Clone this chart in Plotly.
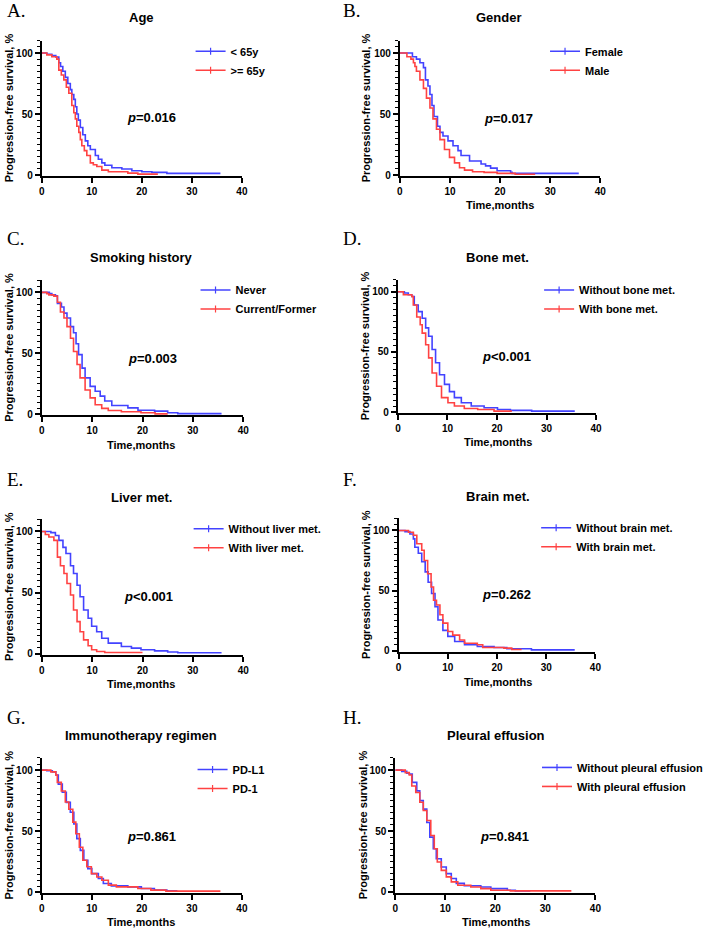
import plotly.graph_objects as go

W, H = 709, 933
BLUE = "#4343FF"
RED = "#FF4242"
SANS = "Liberation Sans, Arial, sans-serif"
SERIF = "Liberation Serif, Times New Roman, serif"

# ---------------- data (time in months, progression-free survival in %) ----------------
age_lt65_t = [0, 1.0, 2.0, 2.8, 3.4, 3.75, 4.2, 4.7, 5.2, 5.7, 6.0, 6.4, 6.7, 7.0, 7.3, 7.7, 8.2, 8.7, 9.2, 9.7, 10.7, 11.3, 12.0, 12.6, 14.0, 16.0, 18.0, 20.0, 22.0, 25.0, 35.7]
age_lt65_s = [100, 99, 98, 96.7, 92, 89, 85, 80, 75, 70, 66, 62, 56, 50, 45, 39, 33, 28, 24, 21, 16, 13, 10, 8, 6, 5, 3.5, 2.7, 2.2, 1.4, 1.4]
age_ge65_t = [0, 1.0, 2.0, 3.0, 3.4, 3.9, 4.4, 4.9, 5.4, 6.0, 6.4, 6.7, 7.0, 7.4, 7.7, 8.0, 8.5, 9.0, 9.7, 10.3, 11.0, 12.0, 13.3, 17.2, 19.2, 23.2]
age_ge65_s = [100, 98.5, 97, 95, 86, 82, 78, 72, 67, 57, 51, 46, 40, 35, 29, 24, 20, 16, 10, 8.5, 7, 4, 2.7, 1.6, 0.8, 0.8]

female_t = [0, 2.5, 3.3, 4.0, 4.7, 5.1, 5.6, 6.0, 6.4, 6.8, 7.5, 8.0, 8.6, 9.6, 10.6, 11.6, 12.2, 13.9, 16.2, 17.1, 18.1, 19.4, 22.1, 22.4, 35.7]
female_s = [100, 97, 95, 92, 88, 78, 73, 66, 57, 48, 40, 35, 32, 28, 24, 20, 16, 11.5, 9, 7.5, 5.7, 3.5, 2.2, 1.4, 1.4]
male_t = [0, 1.4, 2.2, 2.7, 3.0, 3.3, 4.0, 4.7, 5.3, 6.0, 6.6, 7.3, 8.0, 8.9, 9.9, 10.9, 11.9, 12.9, 14.5, 16.8, 19.4, 23.0, 27.0]
male_s = [100, 97, 95, 92, 89, 85, 78, 71, 63, 55, 46, 37.5, 29, 21, 14.5, 10, 6, 4, 2.7, 2.2, 1.4, 0.7, 0.7]

never_t = [0, 1.5, 2.0, 2.7, 3.1, 3.9, 4.4, 5.0, 5.7, 6.3, 6.8, 7.3, 8.0, 8.6, 9.6, 10.6, 11.6, 12.5, 13.9, 17.1, 19.1, 22.4, 25.0, 27.0, 35.7]
never_s = [100, 99, 98, 97.3, 91, 88, 83, 79, 72, 67, 58, 49, 38, 30, 23, 19, 15, 11, 7.3, 5.4, 3.5, 2.7, 1.4, 0.7, 0.7]
smoker_t = [0, 1.0, 1.4, 2.4, 3.1, 3.7, 4.4, 5.0, 5.7, 6.3, 7.0, 7.6, 8.6, 9.6, 10.6, 11.9, 13.2, 15.8, 19.7, 22.5, 25.0]
smoker_s = [100, 99, 98, 97, 92, 84, 79, 72, 62.5, 51.6, 41, 30, 20, 13.6, 8, 5, 3.3, 2.2, 1.4, 0.5, 0.5]

nobone_t = [0, 1.3, 2.1, 2.8, 3.3, 4.1, 4.9, 5.6, 6.2, 6.9, 7.6, 8.4, 9.4, 10.4, 11.4, 12.8, 14.8, 17.4, 20.1, 22.7, 27.0, 35.7]
nobone_s = [100, 99, 97.5, 96, 89, 83.5, 78, 70, 63, 52, 41, 31, 23, 17, 12, 7.7, 5, 3.6, 2.2, 1.4, 0.8, 0.8]
bone_t = [0, 1.1, 2.8, 3.1, 3.8, 4.5, 4.9, 5.6, 6.2, 6.9, 7.8, 8.8, 10.1, 11.4, 13.4, 16.1, 19.4, 23.0]
bone_s = [100, 97.5, 96, 89, 79, 72.5, 65.6, 56, 45, 32.5, 21.5, 12, 7.7, 5, 3, 2.2, 0.8, 0.8]

noliver_t = [0, 1.8, 2.7, 3.4, 4.2, 4.8, 5.7, 6.3, 7.0, 7.6, 8.3, 9.2, 9.9, 10.9, 11.9, 13.2, 15.8, 17.8, 19.7, 22.4, 25.0, 27.0, 35.7]
noliver_s = [100, 99, 96.7, 92.7, 87, 82, 72, 65.6, 56, 46.6, 35.8, 29, 22.5, 18, 12.7, 8.7, 6, 4.6, 3.3, 2.4, 1.4, 0.8, 0.8]
liver_t = [0, 0.7, 1.4, 2.4, 3.1, 3.7, 4.4, 5.0, 5.7, 6.3, 7.0, 7.6, 8.3, 9.2, 9.9, 10.9, 12.5, 20.0]
liver_s = [100, 97.5, 95.4, 92.7, 79, 72, 65.6, 57.5, 48, 35.8, 26.3, 18, 11.4, 6.5, 3.3, 1.9, 1.1, 1.1]

nobrain_t = [0, 1.3, 2.3, 3.0, 3.3, 4.0, 4.7, 5.4, 6.0, 6.7, 7.4, 8.0, 9.0, 10.0, 11.4, 13.4, 16.0, 19.4, 22.0, 27.0, 35.8]
nobrain_s = [100, 99, 97, 93, 86, 81, 74, 65.6, 57, 47.6, 36.6, 25.6, 17, 12, 7.7, 5, 3.6, 2.8, 1.7, 0.8, 0.8]
brain_t = [0, 2.0, 3.0, 3.7, 4.7, 5.2, 5.9, 6.6, 7.1, 7.7, 8.4, 9.0, 10.0, 11.0, 12.4, 13.4, 16.0, 17.1, 21.4, 23.0, 25.0]
brain_s = [100, 98.5, 96, 89, 83.5, 75, 64, 53, 42, 38, 30, 23, 16, 13, 9, 6.3, 5, 2.8, 2.2, 1.1, 1.1]

pdl1_t = [0, 1.0, 2.1, 2.8, 3.3, 4.1, 4.9, 5.7, 6.4, 7.0, 7.7, 8.4, 9.2, 10.0, 11.3, 12.3, 13.9, 17.2, 19.9, 22.5, 25.0, 27.1]
pdl1_s = [100, 99.5, 98.6, 96, 88.6, 82, 73.7, 65.6, 56, 44, 34.4, 26.3, 19.5, 15.4, 11.4, 7.3, 5.4, 4.6, 3.3, 1.9, 1.4, 1.4]
pd1_t = [0, 1.8, 2.8, 3.1, 3.9, 4.7, 5.4, 6.2, 6.8, 7.5, 8.2, 9.0, 9.9, 11.0, 12.0, 13.3, 14.9, 19.2, 21.8, 24.8, 35.7]
pd1_s = [100, 98.6, 96, 90, 83, 74, 68, 57.5, 48, 37, 26.3, 21, 15.4, 12.7, 10, 6, 4.6, 3.3, 1.9, 1.1, 1.1]

nopleural_t = [0, 1.3, 2.3, 2.8, 3.4, 4.3, 4.9, 5.6, 6.3, 6.9, 7.6, 8.2, 9.2, 10.2, 11.2, 12.2, 13.8, 17.1, 19.1, 22.4, 24.0, 27.0]
nopleural_s = [100, 99, 97.5, 96.7, 90, 83, 75, 68, 57, 45, 35.4, 27.2, 20.4, 15, 11, 7, 5, 4, 2.7, 1.4, 0.8, 0.8]
pleural_t = [0, 2.0, 2.8, 3.3, 4.1, 4.9, 5.6, 6.3, 7.1, 7.8, 8.4, 9.2, 10.2, 11.2, 12.5, 15.1, 17.1, 19.1, 23.0, 35.2]
pleural_s = [100, 98, 96, 87, 81.7, 73.6, 66.8, 58.6, 46.3, 35.4, 24.5, 17.7, 12.3, 8.2, 5.4, 4, 2.7, 1.4, 0.8, 0.8]

panel_letters = ["A.", "B.", "C.", "D.", "E.", "F.", "G.", "H."]
panel_titles = ["Age", "Gender", "Smoking history", "Bone met.", "Liver met.", "Brain met.",
                "Immunotherapy regimen", "Pleural effusion"]
p_values = ["=0.016", "=0.017", "=0.003", "<0.001", "<0.001", "=0.262", "=0.861", "=0.841"]
group_names = [("< 65y", ">= 65y"), ("Female", "Male"), ("Never", "Current/Former"),
               ("Without bone met.", "With bone met."), ("Without liver met.", "With liver met."),
               ("Without brain met.", "With brain met."), ("PD-L1", "PD-1"),
               ("Without pleural effusion", "With pleural effusion")]
curves = [((age_lt65_t, age_lt65_s), (age_ge65_t, age_ge65_s)),
          ((female_t, female_s), (male_t, male_s)),
          ((never_t, never_s), (smoker_t, smoker_s)),
          ((nobone_t, nobone_s), (bone_t, bone_s)),
          ((noliver_t, noliver_s), (liver_t, liver_s)),
          ((nobrain_t, nobrain_s), (brain_t, brain_s)),
          ((pdl1_t, pdl1_s), (pd1_t, pd1_s)),
          ((nopleural_t, nopleural_s), (pleural_t, pleural_s))]
x_ticks = [0, 10, 20, 30, 40]
y_ticks = [0, 50, 100]

# ---------------- layout geometry (pixels) ----------------
# (x at t=0, x at t=40, y at 100%, y at 0%)
geo = [(39.3, 242, 53.3, 176), (402, 605, 53.3, 176),
       (39.3, 243.3, 294, 416.7), (400, 600.7, 293.3, 414.3),
       (39.3, 243.3, 534.3, 657.3), (400.7, 600, 533.3, 654.3),
       (39.3, 242, 774.3, 897.3), (397.3, 600, 774.3, 896.7)]
letter_pos = [(2, 11), (342, 11), (2, 240), (342, 240), (2, 482), (342, 482), (2, 721), (342, 721)]
title_pos = [(140, 18), (502, 18), (140, 259), (501, 259), (140, 500), (501, 499), (140, 739), (499, 739)]
p_pos = [(150, 118), (512, 119), (151, 360), (510, 358), (147, 600), (510, 598), (150, 841), (508, 841)]
xtitle_pos = [None, (503, 206), (140, 447), (501, 444), (140, 688), (501, 686), (140, 927), (499, 927)]
ytitle_x = [6.5, 368, 6.5, 367, 6.5, 367, 6.5, 365]
legend_pos = [(230, 51), (589, 51), (235, 291), (583, 291), (228, 531), (580, 530), (232, 773), (581, 771)]

YMIN, YMAX = -0.6, 110


def px(x):
    return x / W


def py(y):
    return 1 - y / H


fig = go.Figure()
layout = dict(width=W, height=H, margin=dict(l=0, r=0, t=0, b=0),
              paper_bgcolor="white", plot_bgcolor="white", showlegend=True,
              font=dict(family=SANS, color="black"))
annotations = []

for i in range(8):
    k = "" if i == 0 else str(i + 1)
    x0, x40, y100, y0 = geo[i]
    ppu = (y0 - y100) / 100.0
    top = y0 - YMAX * ppu
    bot = y0 - YMIN * ppu
    layout["xaxis" + k] = dict(domain=[px(x0), px(x40)], range=[0, 40], anchor="y" + k,
                               tickmode="array", tickvals=x_ticks, showline=True, linewidth=2,
                               linecolor="black", ticks="outside", ticklen=5, tickwidth=2,
                               tickcolor="black", showgrid=False, zeroline=False,
                               tickfont=dict(size=10, family=SANS, weight="bold"),
                               fixedrange=True)
    layout["yaxis" + k] = dict(domain=[py(bot), py(top)], range=[YMIN, YMAX], anchor="x" + k,
                               tickmode="linear", tick0=0, dtick=50, showline=True, linewidth=2,
                               linecolor="black", ticks="outside", ticklen=5, tickwidth=2,
                               tickcolor="black", showgrid=False, zeroline=False,
                               tickfont=dict(size=10, family=SANS, weight="bold"),
                               minor=dict(tickmode="linear", dtick=5, tick0=0, ticks="outside",
                                          ticklen=3, tickwidth=1.2, tickcolor="black",
                                          showgrid=False),
                               fixedrange=True)
    lg = "legend" + k
    tx, ty = legend_pos[i]
    layout[lg] = dict(x=px(tx - 40), y=py(ty - 14), xanchor="left", yanchor="top",
                      xref="paper", yref="paper", bgcolor="rgba(0,0,0,0)", borderwidth=0,
                      itemwidth=30, tracegroupgap=0, itemclick=False, itemdoubleclick=False,
                      font=dict(size=11, family=SANS, weight="bold", color="black"))
    for (t, s), color, name in zip(curves[i], (BLUE, RED), group_names[i]):
        fig.add_trace(go.Scatter(x=t, y=s, mode="lines", xaxis="x" + k, yaxis="y" + k,
                                 line=dict(color=color, width=1.6, shape="hv"),
                                 showlegend=False, hoverinfo="skip"))
        fig.add_trace(go.Scatter(x=[None], y=[None], mode="lines+markers", name=name,
                                 xaxis="x" + k, yaxis="y" + k, legend=lg,
                                 line=dict(color=color, width=1.6),
                                 marker=dict(symbol="line-ns-open", size=5, color=color,
                                             line=dict(width=1.2, color=color)),
                                 showlegend=True, hoverinfo="skip"))
    # panel letter
    lx, ly = letter_pos[i]
    annotations.append(dict(text=panel_letters[i], x=px(lx), y=py(ly), xref="paper", yref="paper",
                            xanchor="left", yanchor="middle", showarrow=False,
                            font=dict(family=SERIF, size=19, color="black")))
    # title
    tx2, ty2 = title_pos[i]
    annotations.append(dict(text="<b>%s</b>" % panel_titles[i], x=px(tx2), y=py(ty2),
                            xref="paper", yref="paper", xanchor="center", yanchor="middle",
                            showarrow=False, font=dict(family=SANS, size=13, color="black")))
    # p value
    pxx, pyy = p_pos[i]
    annotations.append(dict(text="<b><i>p</i>%s</b>" % p_values[i], x=px(pxx), y=py(pyy),
                            xref="paper", yref="paper", xanchor="center", yanchor="middle",
                            showarrow=False, font=dict(family=SANS, size=13, color="black")))
    # x title
    if xtitle_pos[i] is not None:
        xx, xy = xtitle_pos[i]
        annotations.append(dict(text="<b>Time,months</b>", x=px(xx), y=py(xy),
                                xref="paper", yref="paper", xanchor="center", yanchor="middle",
                                showarrow=False, font=dict(family=SANS, size=11, color="black")))
    # y title
    annotations.append(dict(text="<b>Progression-free survival, %</b>", x=px(ytitle_x[i]),
                            y=py((top + y0) / 2), xref="paper", yref="paper",
                            xanchor="center", yanchor="middle", textangle=-90, showarrow=False,
                            font=dict(family=SANS, size=11, color="black")))

layout["annotations"] = annotations
fig.update_layout(**layout)
fig.write_html("out.html")
